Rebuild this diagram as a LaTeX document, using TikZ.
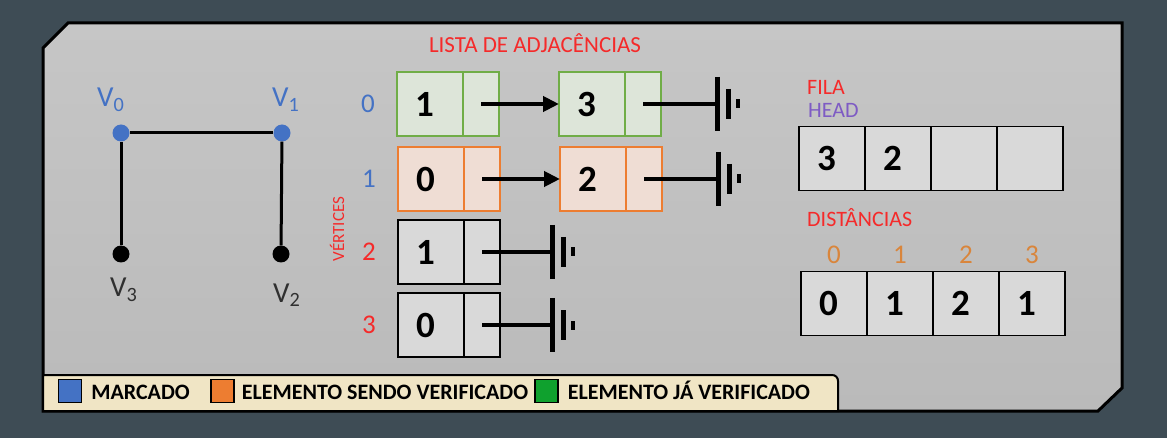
\documentclass[tikz,border=0pt]{standalone}
\usepackage{amsmath}
\usepackage{amssymb}
\usepackage{fontspec}
\setmainfont{Carlito}
\usepackage{tikz}
\usetikzlibrary{positioning,arrows.meta}

\definecolor{bgcol}{HTML}{3E4C55}
\definecolor{paneltop}{HTML}{C6C6C6}
\definecolor{panelbot}{HTML}{BABABA}
\definecolor{mblue}{HTML}{4472C4}
\definecolor{mred}{HTML}{F52A2A}
\definecolor{morange}{HTML}{ED7D31}
\definecolor{idxorange}{HTML}{D9853B}
\definecolor{mpurple}{HTML}{7E5BC4}
\definecolor{mgreen}{HTML}{70AD47}
\definecolor{greenfill}{HTML}{DDE5D9}
\definecolor{orangefill}{HTML}{EFDDD4}
\definecolor{cellgray}{HTML}{D9D9D9}
\definecolor{cream}{HTML}{F0E5C5}
\definecolor{keygreen}{HTML}{0FA12E}
\definecolor{vgray}{HTML}{303030}

\tikzset{
  cell/.style={draw, line width=1.5pt, minimum height=64pt, outer sep=0pt, fill=cellgray,
    font=\fontsize{37}{40}\selectfont\bfseries},
  valcell/.style={cell, minimum width=66pt, text width=30pt, align=left, inner xsep=18pt},
  ptrcell/.style={cell, minimum width=36pt, inner sep=0pt},
  seen/.style={draw=mgreen, fill=greenfill},
  checking/.style={draw=morange, fill=orangefill},
  vdot/.style={circle, minimum size=17pt, inner sep=0pt},
  edge/.style={line width=3pt},
  vname/.style={font=\fontsize{29}{30}\selectfont, anchor=base west, inner sep=0pt},
  rowlabel/.style={font=\fontsize{27}{30}\selectfont, anchor=base, inner sep=0pt},
  heading/.style={font=\fontsize{22}{24}\selectfont, text=mred, anchor=base west, inner sep=0pt},
  key/.style={draw, line width=1.2pt, minimum size=23pt, inner sep=0pt},
  keytext/.style={font=\fontsize{22}{24}\selectfont\bfseries, inner sep=0pt,
    text height=14pt, text depth=0pt},
  nullsym/.pic={
    \draw[line width=5pt] (0,-27) -- (0,27);
    \draw[line width=5pt] (11,-15) -- (11,15);
    \fill (18.5,-4.5) rectangle (23,4.5);
  },
}

\begin{document}
\begin{tikzpicture}[x=1pt,y=-1pt]
    \useasboundingbox (0,0) rectangle (1167,438);
    \fill[bgcol] (0,0) rectangle (1167,438);
    %% panel and legend
    \draw[line width=3pt, top color=paneltop, bottom color=panelbot]
      (43,48) -- (68,23) -- (1122,23) -- (1122,388) -- (1098,411) -- (43,411) -- cycle;
    \draw[line width=2pt, fill=cream] (43,411) -- (43,375) -- (832,375)
      .. controls (835.5,375) and (838,377.5) .. (838,381) -- (838,411) -- cycle;
    \node[key, fill=mblue] (k1) at (70,391) {};
    \node[keytext, right=9pt of k1, yshift=-1pt] (t1) {MARCADO};
    \node[key, fill=morange] (k2) at (222.5,391) {};
    \node[keytext, right=7pt of k2, yshift=-1pt] (t2) {ELEMENTO SENDO VERIFICADO};
    \node[key, fill=keygreen] (k3) at (546.5,391) {};
    \node[keytext, right=9pt of k3, yshift=-1pt] (t3) {ELEMENTO JÁ VERIFICADO};
    %% graph
    \node[vdot, fill=mblue] (v0) at (121,133) {};
    \node[vdot, fill=mblue] (v1) at (282,133) {};
    \node[vdot, fill=black] (v3) at (121,254) {};
    \node[vdot, fill=black] (v2) at (281,254) {};
    \draw[edge] (v0) -- (v1);
    \draw[edge] (v0) -- (v3);
    \draw[edge] (v1) -- (v2);
    \node[vname, text=mblue] (n0) at (97,107) {V\textsubscript{0}};
    \node[vname, text=mblue] (n1) at (272,107) {V\textsubscript{1}};
    \node[vname, text=vgray] (n3) at (110,297) {V\textsubscript{3}};
    \node[vname, text=vgray] (n2) at (273,302) {V\textsubscript{2}};
    %% adjacency list
    \node[font=\fontsize{23}{24}\selectfont, text=mred, anchor=base, inner sep=0pt] (title)
      at (535,53) {LISTA DE ADJACÊNCIAS};
    \node[rotate=90, font=\fontsize{17}{18}\selectfont, text=mred, inner sep=0pt] (vert)
      at (337,229) {VÉRTICES};
    \node[rowlabel, text=mblue] (r0) at (368,113) {0};
    \node[rowlabel, text=mblue] (r1) at (369,188) {1};
    \node[rowlabel, text=mred] (r2) at (369,261) {2};
    \node[rowlabel, text=mred] (r3) at (369,334) {3};
    %% row 0
    \node[valcell, seen] (a0) at (430,104) {1};
    \node[ptrcell, seen, right=0pt of a0] (pa0) {};
    \node[valcell, seen] (b0) at (592,104) {3};
    \node[ptrcell, seen, right=0pt of b0] (pb0) {};
    \coordinate (g0) at (717,104);
    %% row 1
    \node[valcell, checking] (a1) at (431,179) {0};
    \node[ptrcell, checking, right=0pt of a1] (pa1) {};
    \node[valcell, checking] (b1) at (593,179) {2};
    \node[ptrcell, checking, right=0pt of b1] (pb1) {};
    \coordinate (g1) at (718,179);
    %% rows 2 and 3
    \node[valcell] (a2) at (431,252) {1};
    \node[ptrcell, right=0pt of a2] (pa2) {};
    \coordinate (g2) at (552,252);
    \node[valcell] (a3) at (431,325) {0};
    \node[ptrcell, right=0pt of a3] (pa3) {};
    \coordinate (g3) at (552,325);
    %% pointers
    \draw[line width=4pt, -{Triangle[length=16pt,width=15pt]}] (pa0.center) -- (b0.west);
    \draw[line width=4pt, -{Triangle[length=16pt,width=15pt]}] (pa1.center) -- (b1.west);
    \draw[line width=4pt] (pb0.center) -- (g0);
    \draw[line width=4pt] (pb1.center) -- (g1);
    \draw[line width=4pt] (pa2.center) -- (g2);
    \draw[line width=4pt] (pa3.center) -- (g3);
    \pic at (g0) {nullsym};
    \pic at (g1) {nullsym};
    \pic at (g2) {nullsym};
    \pic at (g3) {nullsym};
    %% queue
    \node[heading] (fila) at (807,95) {FILA};
    \node[heading, text=mpurple] (head) at (808,118) {HEAD};
    \node[valcell] (q0) at (832,158.5) {3};
    \node[valcell, right=0pt of q0] (q1) {2};
    \node[valcell, right=0pt of q1] (q2) {};
    \node[valcell, right=0pt of q2] (q3) {};
    %% distances
    \node[heading] (dist) at (807,227) {DISTÂNCIAS};
    \node[valcell] (d0) at (834,303.5) {0};
    \node[valcell, right=0pt of d0] (d1) {1};
    \node[valcell, right=0pt of d1] (d2) {2};
    \node[valcell, right=0pt of d2] (d3) {1};
    \node[rowlabel, text=idxorange, yshift=8pt] (i0) at (d0.north) {0};
    \node[rowlabel, text=idxorange, yshift=8pt] (i1) at (d1.north) {1};
    \node[rowlabel, text=idxorange, yshift=8pt] (i2) at (d2.north) {2};
    \node[rowlabel, text=idxorange, yshift=8pt] (i3) at (d3.north) {3};
  \end{tikzpicture}
\end{document}
